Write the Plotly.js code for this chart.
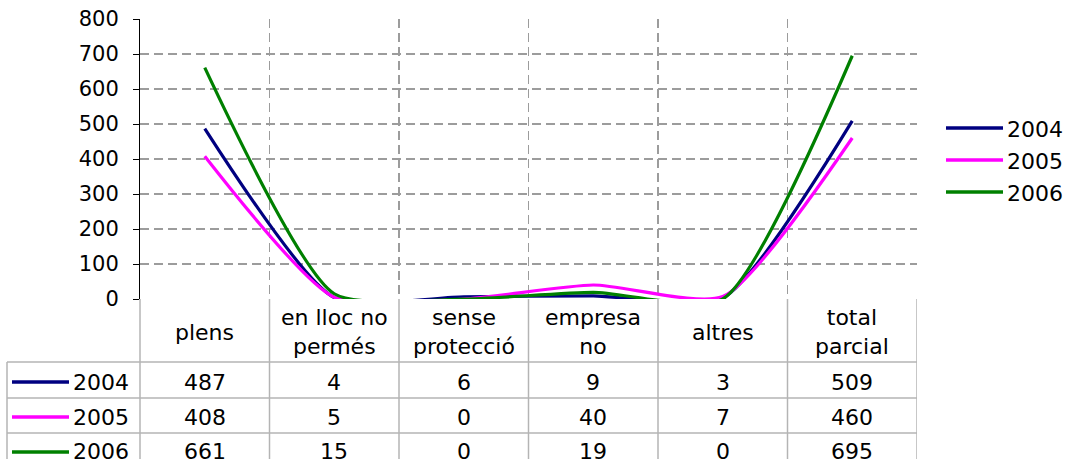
<!DOCTYPE html>
<html><head><meta charset="utf-8">
<script src="https://cdn.plot.ly/plotly-3.0.1.min.js"></script>
<style>html,body{margin:0;padding:0;background:#fff;}#chart{width:1069px;height:459px;}</style>
</head><body><div id="chart"></div>
<script>
// ---- data ----
const categories = ["plens", "en lloc no permés", "sense protecció", "empresa no", "altres", "total parcial"];
const headerLabels = ["plens", "en lloc no<br>permés", "sense<br>protecció", "empresa<br>no", "altres", "total<br>parcial"];
const seriesNames = ["2004", "2005", "2006"];
const values2004 = [487, 4, 6, 9, 3, 509];
const values2005 = [408, 5, 0, 40, 7, 460];
const values2006 = [661, 15, 0, 19, 0, 695];
const seriesValues = [values2004, values2005, values2006];
const seriesColors = ["#000080", "#FF00FF", "#008000"];

// ---- geometry (pixels) ----
const W = 1069, H = 459;
const PL = 140, PR = 917, PT = 19, PB = 299;
const pw = PR - PL, ph = PB - PT;
const xp = px => (px - PL) / pw;
const yp = py => (PB - py) / ph;
const FONT = "DejaVu Sans, Verdana, sans-serif";
const gridCol = "#9c9c9c";
const tableCol = "#b4b4b4";
const TXT = 22;

const traces = seriesNames.map((name, i) => ({
  type: "scatter", mode: "lines", name: name,
  x: categories, y: seriesValues[i],
  line: {color: seriesColors[i], width: 3.2, shape: "spline", smoothing: 0.6},
  hoverinfo: "x+y+name"
}));

const shapes = [];
const annotations = [];

const rowTops = [362, 398, 433];
const rowCenters = [382, 417, 452];
const headerCenter = 332;

rowTops.forEach(y => shapes.push({type: "line", xref: "paper", yref: "paper",
  x0: xp(7), x1: xp(PR), y0: yp(y), y1: yp(y), line: {color: tableCol, width: 1.5}}));
shapes.push({type: "line", xref: "paper", yref: "paper", x0: xp(7), x1: xp(7), y0: yp(362), y1: yp(475), line: {color: tableCol, width: 1.5}});
shapes.push({type: "line", xref: "paper", yref: "paper", x0: 0, x1: 0, y0: 0, y1: yp(475), line: {color: tableCol, width: 1.5}});
categories.forEach((c, i) => shapes.push({type: "line", xref: "x", yref: "paper",
  x0: i + 0.5, x1: i + 0.5, y0: 0, y1: yp(475), line: {color: tableCol, width: 1.5}}));

categories.forEach((c, i) => annotations.push({xref: "x", yref: "paper", x: c, y: yp(headerCenter),
  text: headerLabels[i], showarrow: false, xanchor: "center", yanchor: "middle",
  font: {family: FONT, size: TXT, color: "#000"}}));

seriesNames.forEach((name, s) => {
  categories.forEach((c, i) => annotations.push({xref: "x", yref: "paper", x: c, y: yp(rowCenters[s]),
    text: String(seriesValues[s][i]), showarrow: false, xanchor: "center", yanchor: "middle",
    font: {family: FONT, size: TXT, color: "#000"}}));
  shapes.push({type: "line", xref: "paper", yref: "paper", x0: xp(12), x1: xp(69),
    y0: yp(rowCenters[s]), y1: yp(rowCenters[s]), line: {color: seriesColors[s], width: 3.5}});
  annotations.push({xref: "paper", yref: "paper", x: xp(71), y: yp(rowCenters[s]),
    text: name, showarrow: false, xanchor: "left", yanchor: "middle",
    font: {family: FONT, size: TXT, color: "#000"}});
  const ly = [128, 160, 192][s];
  shapes.push({type: "line", xref: "paper", yref: "paper", x0: xp(946), x1: xp(1003),
    y0: yp(ly), y1: yp(ly), line: {color: seriesColors[s], width: 3.5}});
  annotations.push({xref: "paper", yref: "paper", x: xp(1005), y: yp(ly + 1),
    text: name, showarrow: false, xanchor: "left", yanchor: "middle",
    font: {family: FONT, size: TXT, color: "#000"}});
});

const layout = {
  width: W, height: H,
  margin: {l: PL, r: W - PR, t: PT, b: H - PB, pad: 0},
  paper_bgcolor: "#fff", plot_bgcolor: "#fff",
  showlegend: false,
  font: {family: FONT, size: 21, color: "#000"},
  xaxis: {type: "category", range: [-0.5, 5.5], tickson: "boundaries",
    showgrid: true, gridcolor: gridCol, griddash: "9px,5px", gridwidth: 1.2,
    showticklabels: false, ticks: "", zeroline: false, showline: false, fixedrange: true},
  yaxis: {range: [0, 800], dtick: 100, tick0: 0, showgrid: true, gridcolor: gridCol,
    griddash: "9px,5px", gridwidth: 1.2, zeroline: false, showline: true, linecolor: "#000",
    linewidth: 1, ticks: "outside", ticklen: 6, tickcolor: "#000", tickwidth: 1,
    tickfont: {family: FONT, size: 21, color: "#000"}, ticklabelstandoff: 10, fixedrange: true},
  shapes: shapes,
  annotations: annotations
};

Plotly.newPlot("chart", traces, layout, {displayModeBar: false, staticPlot: true});
</script>
</body></html>
